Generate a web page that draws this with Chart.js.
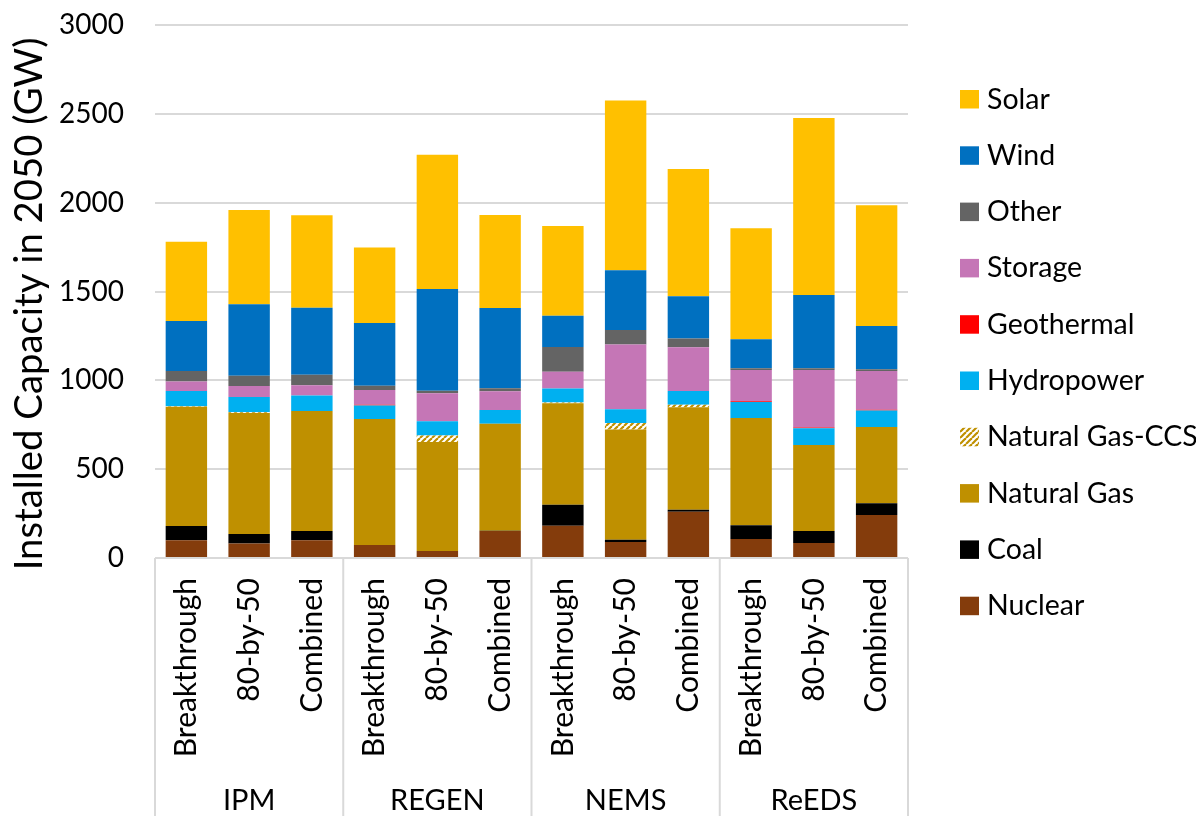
<!DOCTYPE html>
<html>
<head>
<meta charset="utf-8">
<script src="https://cdn.jsdelivr.net/npm/chart.js@4.4.0/dist/chart.umd.min.js"></script>
<style>
  html, body { margin: 0; padding: 0; background: #fff; }
  #wrap { width: 1196px; height: 816px; position: relative; }
</style>
</head>
<body>
<div id="wrap"><canvas id="chart"></canvas></div>
<script>
// === Data ===
const models = ['IPM', 'REGEN', 'NEMS', 'ReEDS'];
const scenarios = ['Breakthrough', '80-by-50', 'Combined'];
const categories = models.flatMap(() => scenarios);

// GW installed in 2050, one value per bar (model x scenario)
const nuclear    = [100,  82, 100,  73,  39, 152, 182,  90, 261, 107,  84, 242];
const coal       = [ 80,  53,  52,   0,   0,   2, 118,  13,  11,  77,  68,  66];
const naturalGas = [671, 681, 675, 709, 614, 602, 571, 620, 576, 604, 484, 430];
const gasCCS     = [  3,   4,   0,   0,  37,   0,   4,  37,  14,   0,   0,   0];
const hydro      = [ 86,  86,  87,  77,  79,  77,  79,  77,  78,  90,  94,  92];
const geothermal = [  0,   0,   0,   3,   0,   0,   0,   0,   0,   4,   5,   5];
const storage    = [ 54,  62,  58,  84, 158, 105,  95, 364, 246, 176, 323, 218];
const other      = [ 58,  58,  60,  23,  15,  17, 139,  83,  49,  10,  10,   9];
const wind       = [282, 402, 377, 354, 572, 452, 175, 336, 238, 163, 413, 244];
const solar      = [446, 531, 520, 424, 756, 523, 505, 955, 717, 625, 995, 680];

const yTicks = [0, 500, 1000, 1500, 2000, 2500, 3000];

// === Styling ===
const FONT = 'Lato';
const GRID = '#d9d9d9';

function hatch(color) {
  const c = document.createElement('canvas');
  c.width = 6; c.height = 6;
  const g = c.getContext('2d');
  g.fillStyle = '#fff';
  g.fillRect(0, 0, 6, 6);
  g.strokeStyle = color;
  g.lineWidth = 2.2;
  for (let k = -6; k <= 12; k += 6) {
    g.beginPath();
    g.moveTo(k, 6);
    g.lineTo(k + 6, 0);
    g.stroke();
  }
  return g.createPattern(c, 'repeat');
}

// bottom-to-top stacking order
const series = [
  { label: 'Nuclear', data: nuclear, color: '#843C0C' },
  { label: 'Coal', data: coal, color: '#000000' },
  { label: 'Natural Gas', data: naturalGas, color: '#BF9000' },
  { label: 'Natural Gas-CCS', data: gasCCS, color: hatch('#BF9000') },
  { label: 'Hydropower', data: hydro, color: '#00B0F0' },
  { label: 'Geothermal', data: geothermal, color: '#FF0000' },
  { label: 'Storage', data: storage, color: '#C576B6' },
  { label: 'Other', data: other, color: '#646464' },
  { label: 'Wind', data: wind, color: '#0070C0' },
  { label: 'Solar', data: solar, color: '#FFC000' }
];

// === Extra drawing: group axis, y title, legend ===
const decor = {
  id: 'decor',
  afterDraw(chart) {
    const { ctx, chartArea } = chart;
    const x = chart.scales.x;
    const per = scenarios.length;
    ctx.save();

    // group separators below the plot
    ctx.strokeStyle = GRID;
    ctx.lineWidth = 2;
    for (let g = 0; g <= models.length; g++) {
      let px;
      if (g === 0) px = chartArea.left;
      else if (g === models.length) px = chartArea.right;
      else px = (x.getPixelForValue(g * per - 1) + x.getPixelForValue(g * per)) / 2;
      ctx.beginPath();
      ctx.moveTo(px, chartArea.bottom);
      ctx.lineTo(px, chart.height);
      ctx.stroke();
    }

    // group labels
    ctx.fillStyle = '#000';
    ctx.font = `29px ${FONT}`;
    ctx.textAlign = 'center';
    ctx.textBaseline = 'alphabetic';
    models.forEach((m, g) => {
      const cx = (x.getPixelForValue(g * per) + x.getPixelForValue(g * per + per - 1)) / 2;
      ctx.fillText(m, cx, 810);
    });

    // y axis title
    ctx.save();
    ctx.translate(30, 304);
    ctx.rotate(-Math.PI / 2);
    ctx.font = `38.3px ${FONT}`;
    ctx.textBaseline = 'middle';
    ctx.fillText('Installed Capacity in 2050 (GW)', 0, 0);
    ctx.restore();

    // legend, Solar on top
    ctx.textAlign = 'left';
    ctx.font = `28.5px ${FONT}`;
    const items = chart.data.datasets.slice().reverse();
    items.forEach((ds, i) => {
      const base = 108.5 + i * 56.3;
      ctx.fillStyle = ds.backgroundColor;
      ctx.fillRect(960, base - 18.5, 19, 18.5);
      ctx.fillStyle = '#000';
      ctx.fillText(ds.label, 987, base);
    });

    ctx.restore();
  }
};

function build() {
  new Chart(document.getElementById('chart'), {
    type: 'bar',
    data: {
      labels: categories,
      datasets: series.map(s => ({
        label: s.label,
        data: s.data,
        backgroundColor: s.color,
        borderWidth: 0,
        barPercentage: 0.66,
        categoryPercentage: 1
      }))
    },
    options: {
      responsive: true,
      maintainAspectRatio: false,
      animation: false,
      layout: { padding: { top: 25, right: 288, bottom: 0, left: 0 } },
      plugins: {
        legend: { display: false },
        tooltip: { enabled: false }
      },
      scales: {
        x: {
          stacked: true,
          grid: { display: false },
          border: { display: false },
          ticks: {
            autoSkip: false,
            minRotation: 90,
            maxRotation: 90,
            padding: 12,
            color: '#000',
            font: { family: FONT, size: 30 }
          },
          afterFit: s => { s.height = 258; }
        },
        y: {
          stacked: true,
          min: yTicks[0],
          max: yTicks[yTicks.length - 1],
          afterBuildTicks: s => { s.ticks = yTicks.map(v => ({ value: v })); },
          grid: { color: GRID, lineWidth: 2, drawTicks: false },
          border: { display: false },
          ticks: {
            padding: 31,
            color: '#000',
            font: { family: FONT, size: 28 },
            callback: v => String(v)
          },
          // the tick padding is horizontal here; keep it out of the top/bottom reserve
          afterFit: s => {
            s.width = 155;
            s.paddingTop = 18;
            s.paddingBottom = 18;
          }
        }
      }
    },
    plugins: [decor]
  });
}

if (document.fonts && document.fonts.load) {
  document.fonts.load(`29px ${FONT}`).then(build, build);
} else {
  build();
}
</script>
</body>
</html>
